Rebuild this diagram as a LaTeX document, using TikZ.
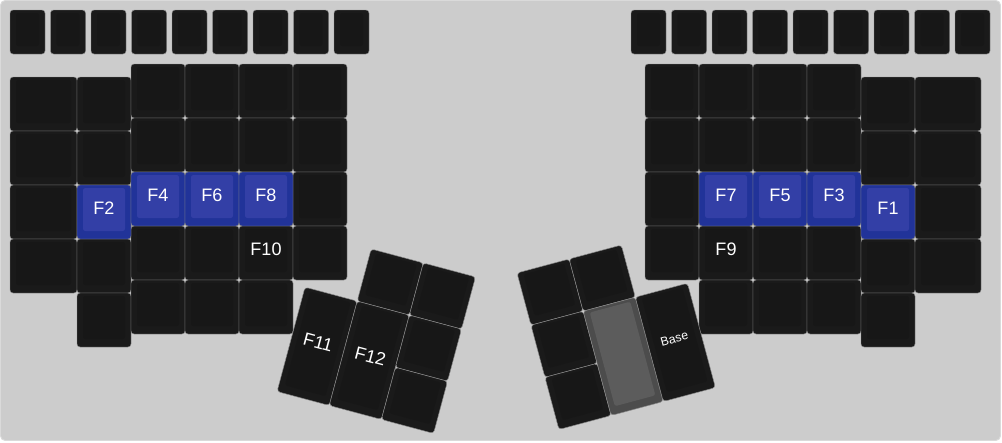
\documentclass[tikz,border=0pt]{standalone}
\usepackage{fontspec}
\setmainfont{Liberation Sans}
\usepackage{tikz}

\definecolor{board}{RGB}{204,204,204}
\definecolor{boardedge}{RGB}{218,218,218}
\definecolor{seam}{RGB}{140,140,140}
\definecolor{keyrim}{RGB}{26,26,26}
\definecolor{keyface}{RGB}{23,23,23}
\definecolor{bluerim}{RGB}{33,51,153}
\definecolor{blueface}{RGB}{51,63,166}
\definecolor{greyrim}{RGB}{76,76,76}
\definecolor{greyface}{RGB}{92,92,92}

% key body: look, x, y, width, height (pixels, y down)
\newcommand{\keyshape}[5][plain]{%
  \filldraw[rim, #1 rim] (#2,#3) rectangle ++(#4,#5);
  \fill[#1 face] ({#2+6},{#3+3}) rectangle ({#2+#4-6},{#3+#5-8});
}
% key with a legend: look, name, x, y, width, height, legend
\newcommand{\keycap}[7][plain]{%
  \keyshape[#1]{#3}{#4}{#5}{#6}
  \node[keylabel] (#2) at ({#3+#5/2},{#4+#6/2-4}) {#7};
}

\begin{document}
\begin{tikzpicture}[
  x=0.03cm, y=-0.03cm,
  rim/.style={draw=seam, line width=0.4pt, rounded corners=2.6pt},
  plain rim/.style={fill=keyrim},
  plain face/.style={fill=keyface, rounded corners=2pt},
  blue rim/.style={fill=bluerim},
  blue face/.style={fill=blueface, rounded corners=2pt},
  grey rim/.style={fill=greyrim},
  grey face/.style={fill=greyface, rounded corners=2pt},
  keylabel/.style={text=white, inner sep=0pt, font=\fontsize{15.4}{18}\selectfont},
  small label/.style={font=\fontsize{10.5}{12}\selectfont}
]
\useasboundingbox (0,0) rectangle (1002,442);
\filldraw[fill=board, draw=boardedge, line width=0.8pt, rounded corners=4pt]
  (0.5,0.5) rectangle (1000.5,440.5);

% --- Function rows ---
\foreach \i in {0,...,8} {
  \keyshape{10+40.5*\i}{10}{35}{44}
  \keyshape{631+40.5*\i}{10}{35}{44}
}

% --- Left half ---
\foreach \r in {0,...,3} {\keyshape{10}{77+54*\r}{67}{54}}
\foreach \r in {0,...,4} {\keyshape{77}{77+54*\r}{54}{54}}
\foreach \c in {0,1,2} {
  \foreach \r in {0,...,4} {\keyshape{131+54*\c}{64+54*\r}{54}{54}}
}
\foreach \r in {0,...,3} {\keyshape{293}{64+54*\r}{54}{54}}

\keycap[blue]{F2}{77}{185}{54}{54}{F2}
\keycap[blue]{F4}{131}{172}{54}{54}{F4}
\keycap[blue]{F6}{185}{172}{54}{54}{F6}
\keycap[blue]{F8}{239}{172}{54}{54}{F8}
\node[keylabel] (F10) at (266,249) {F10};

% --- Right half ---
\foreach \r in {0,...,3} {\keyshape{645}{64+54*\r}{54}{54}}
\foreach \c in {0,1,2} {
  \foreach \r in {0,...,4} {\keyshape{699+54*\c}{64+54*\r}{54}{54}}
}
\foreach \r in {0,...,4} {\keyshape{861}{77+54*\r}{54}{54}}
\foreach \r in {0,...,3} {\keyshape{915}{77+54*\r}{66}{54}}

\keycap[blue]{F7}{699}{172}{54}{54}{F7}
\keycap[blue]{F5}{753}{172}{54}{54}{F5}
\keycap[blue]{F3}{807}{172}{54}{54}{F3}
\keycap[blue]{F1}{861}{185}{54}{54}{F1}
\node[keylabel] (F9) at (726,249) {F9};

% --- Left thumb cluster ---
\begin{scope}[shift={(319,235)}, rotate=-15, transform shape]
  \keyshape{54}{0}{54}{54}
  \keyshape{108}{0}{54}{54}
  \keycap{F11}{0}{54}{54}{108}{F11}
  \keycap{F12}{54}{54}{54}{108}{F12}
  \keyshape{108}{54}{54}{54}
  \keyshape{108}{108}{54}{54}
\end{scope}

% --- Right thumb cluster ---
\begin{scope}[shift={(517,273)}, rotate=15, transform shape]
  \keyshape{0}{0}{54}{54}
  \keyshape{54}{0}{54}{54}
  \keyshape{0}{54}{54}{54}
  \keyshape{0}{108}{54}{54}
  \keyshape[grey]{54}{54}{54}{108}
  \keyshape{108}{54}{54}{108}
  \node[keylabel, small label] (Base) at (135,104) {Base};
\end{scope}

\end{tikzpicture}
\end{document}
